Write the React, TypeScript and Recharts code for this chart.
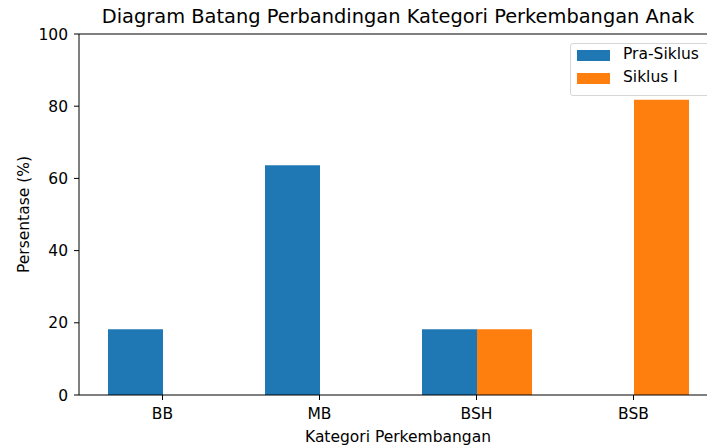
import React from 'react';
import { BarChart, Bar, XAxis, YAxis, ReferenceLine, Label } from 'recharts';

const categories = ['BB', 'MB', 'BSH', 'BSB'];
const praSiklus = [18.18, 63.64, 18.18, 0];
const siklusI = [0, 0, 18.18, 81.82];
const yTicks = [0, 20, 40, 60, 80, 100];

const data = categories.map((name, i) => ({ name, pra: praSiklus[i], siklus: siklusI[i] }));

const font = '"DejaVu Sans", sans-serif';
const fs = 15.5;

export default function App() {
  return (
    <div style={{ position: 'fixed', left: 0, top: 0, width: 707, height: 447, overflow: 'hidden', background: '#fff', fontFamily: font }}>
      <div style={{ position: 'absolute', left: 0, top: 5, width: 796, textAlign: 'center', fontSize: 19.4, lineHeight: '23px', color: '#000', whiteSpace: 'nowrap' }}>
        Diagram Batang Perbandingan Kategori Perkembangan Anak
      </div>
      <BarChart
        width={730}
        height={447}
        data={data}
        margin={{ top: 34, right: 13, bottom: 0, left: 0 }}
        barGap={0}
        barSize={55}
      >
        <XAxis
          dataKey="name"
          padding={{ left: 5, right: 5 }}
          height={52}
          tickSize={5}
          tickMargin={8}
          stroke="#000"
          tick={{ fill: '#000', fontSize: fs, fontFamily: font }}
        >
          <Label value="Kategori Perkembangan" position="insideBottom" offset={5} style={{ fill: '#000', fontSize: fs, fontFamily: font }} />
        </XAxis>
        <YAxis
          domain={[0, 100]}
          ticks={yTicks}
          width={79}
          tickSize={5}
          tickMargin={6}
          stroke="#000"
          tick={{ fill: '#000', fontSize: fs, fontFamily: font }}
        >
          <Label value="Persentase (%)" angle={-90} position="insideLeft" offset={23} style={{ fill: '#000', fontSize: fs, fontFamily: font, textAnchor: 'middle' }} />
        </YAxis>
        <ReferenceLine y={100} stroke="#000" />
        <Bar dataKey="pra" fill="#1f77b4" isAnimationActive={false} />
        <Bar dataKey="siklus" fill="#ff7f0e" isAnimationActive={false} />
      </BarChart>
      <div style={{ position: 'absolute', left: 570, top: 43, width: 140, height: 53, boxSizing: 'border-box', border: '1px solid #d6d6d6', borderRadius: 3, background: 'rgba(255,255,255,0.8)' }}>
        <div style={{ position: 'absolute', left: 6, top: 6, width: 33, height: 11, background: '#1f77b4' }} />
        <div style={{ position: 'absolute', left: 52, top: 1, fontSize: fs, lineHeight: '19px', color: '#000', whiteSpace: 'nowrap' }}>Pra-Siklus</div>
        <div style={{ position: 'absolute', left: 6, top: 29, width: 33, height: 11, background: '#ff7f0e' }} />
        <div style={{ position: 'absolute', left: 52, top: 24, fontSize: fs, lineHeight: '19px', color: '#000', whiteSpace: 'nowrap' }}>Siklus I</div>
      </div>
    </div>
  );
}
